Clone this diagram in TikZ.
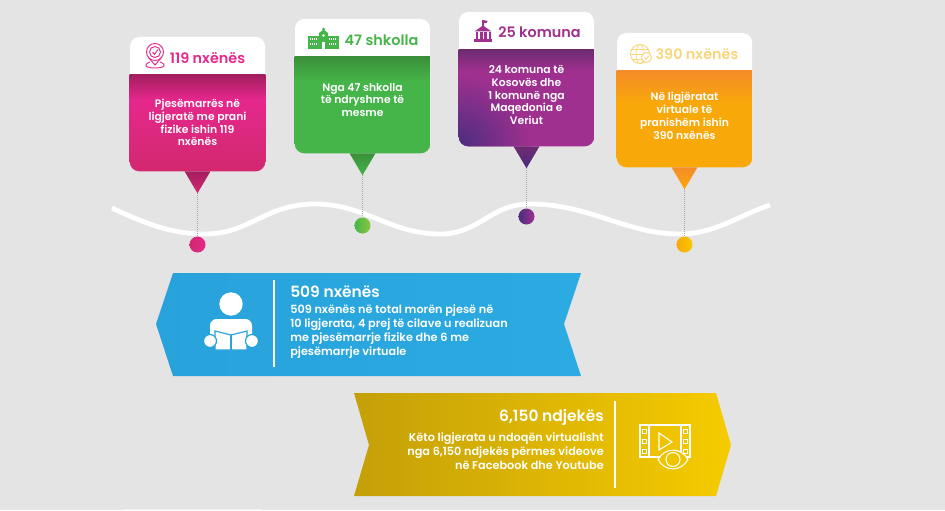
\documentclass[tikz,border=0pt]{standalone}
\usepackage{fontspec}
\setmainfont{Poppins}[BoldFont={Poppins SemiBold}]
\usetikzlibrary{positioning}
\usetikzlibrary{calc}
\definecolor{bgGray}{HTML}{E4E4E4}
\definecolor{pinkMain}{HTML}{E5288C}
\definecolor{pinkLow}{HTML}{D2286F}
\definecolor{pinkDark}{HTML}{A31E5F}
\definecolor{greenMain}{HTML}{45B549}
\definecolor{greenDark}{HTML}{3A8F3A}
\definecolor{greenLime}{HTML}{8CC63F}
\definecolor{purpleMain}{HTML}{A0308F}
\definecolor{purpleTop}{HTML}{6E2A72}
\definecolor{purpleLow}{HTML}{4A2D7F}
\definecolor{orangeMain}{HTML}{F9A80A}
\definecolor{orangeTop}{HTML}{F58C28}
\definecolor{yellowHead}{HTML}{F9D67C}
\definecolor{blueBand}{HTML}{28A2DB}
\definecolor{blueRight}{HTML}{2BABE2}
\definecolor{goldLeft}{HTML}{C4A008}
\definecolor{goldRight}{HTML}{F6CB00}
\pgfdeclareverticalshading{pinkBody}{100bp}{color(0bp)=(pinkLow);color(25bp)=(pinkLow);color(62bp)=(pinkMain);color(75bp)=(pinkDark);color(100bp)=(pinkDark)}
\pgfdeclareverticalshading{greenBody}{100bp}{color(0bp)=(greenMain);color(25bp)=(greenMain);color(62bp)=(greenMain);color(75bp)=(greenDark);color(100bp)=(greenDark)}
\pgfdeclareverticalshading{purpleBody}{100bp}{color(0bp)=(purpleMain);color(25bp)=(purpleMain);color(64bp)=(purpleMain);color(75bp)=(purpleTop);color(100bp)=(purpleTop)}
\pgfdeclareverticalshading{orangeBody}{100bp}{color(0bp)=(orangeMain);color(25bp)=(orangeMain);color(58bp)=(orangeMain);color(75bp)=(orangeTop);color(100bp)=(orangeTop)}
\tikzset{%
	% Specifications for style of nodes:
	card/.style = {rectangle, rounded corners=7pt, fill=white, minimum width=101.25pt, minimum height=100.5pt, inner sep=0pt},
	cardtext/.style = {align=center, text=white, inner sep=0pt, font=\fontsize{8.1pt}{9.6pt}\selectfont\bfseries},
	headtext/.style = {inner sep=0pt, font=\fontsize{10.8pt}{12pt}\selectfont\bfseries},
	spot/.style = {circle, minimum size=12pt, inner sep=0pt},
	stem/.style = {densely dotted, line width=.5pt, draw=black!35},
	bandtitle/.style = {inner sep=0pt, text=white, font=\fontsize{11.6pt}{13pt}\selectfont\bfseries},
	bandtext/.style = {inner sep=0pt, text=white, font=\fontsize{8.45pt}{10.5pt}\selectfont\bfseries},
	divider/.style = {draw=white, line width=1.4pt}
}
\begin{document}
\begin{tikzpicture}[x=.75pt, y=-.75pt]
		\fill[bgGray] (0,0) rectangle (945,510);
		\useasboundingbox (0,0) rectangle (945,510);
		\fill[black!6] (124,509) rectangle (262,510);
		%% Wave
		\draw[white, line width=3.6pt] (112,208) .. controls (150,226) and (175,234) .. (205,234) .. controls (250,234) and (265,204) .. (315,204) .. controls (365,204) and (390,234) .. (440,234) .. controls (480,234) and (490,204) .. (530,204) .. controls (590,204) and (625,234) .. (680,234) .. controls (715,234) and (740,215) .. (770,205);
		%% First card
		\node [card] (cardA) at (197.5,104) {};
		\coordinate [below=28.5pt of cardA.north west] (cardASplit);
		\begin{scope}
			\clip [rounded corners=7pt] (cardA.north west) rectangle (cardA.south east);
			\path [shade, shading=pinkBody] (cardASplit) rectangle (cardA.south east);
		\end{scope}
		\coordinate [below=16.5pt of cardA.south] (tipA);
		\path [shade, top color=pinkDark, bottom color=pinkLow] (cardA.south) ++(-13,0) -- ++(26,0) -- (tipA) -- cycle;
		\node [spot, left color=pinkLow, right color=pinkMain, below=48.75pt of cardA.south] (dotA) {};
		\draw [stem] (tipA) -- (dotA);
		\node [headtext, text=pinkMain] (headA) at (207.5,58) {119 nxënës};
		\node [cardtext] (textA) at (197.5,122.5) {Pjesëmarrës në\\ligjeratë me prani\\fizike ishin 119\\nxënës};
		\draw [pinkMain, line width=.7pt] (155,52) circle (8.5);
		\draw [pinkMain, line width=.7pt] (155,52) circle (5.5);
		\draw [pinkMain, line width=.7pt] (152.5,52) -- (154.5,54.5) -- (158,49.5);
		\draw [pinkMain, line width=.7pt] (150,62) .. controls (142,65) and (146,68) .. (155,68) .. controls (164,68) and (168,65) .. (160,62);
		\draw [pinkMain, line width=.7pt] (148.5,57.5) -- (155,65) -- (161.5,57.5);
		%% Second card
		\node [card] (cardB) at (362.5,86) {};
		\coordinate [below=28.5pt of cardB.north west] (cardBSplit);
		\begin{scope}
			\clip [rounded corners=7pt] (cardB.north west) rectangle (cardB.south east);
			\path [shade, shading=greenBody] (cardBSplit) rectangle (cardB.south east);
		\end{scope}
		\coordinate [below=16.5pt of cardB.south] (tipB);
		\path [shade, top color=greenDark, bottom color=greenMain] (cardB.south) ++(-13,0) -- ++(26,0) -- (tipB) -- cycle;
		\node [spot, left color=greenMain, right color=greenLime, below=48pt of cardB.south] (dotB) {};
		\draw [stem] (tipB) -- (dotB);
		\node [headtext, text=greenMain] (headB) at (381.5,40) {47 shkolla};
		\node [cardtext] (textB) at (362.5,100) {Nga 47 shkolla\\të ndryshme të\\mesme};
		\fill [greenMain] (308,36) rectangle (339,49);
		\fill [greenMain] (319,36) -- (319,33) -- (323.5,29.5) -- (328,33) -- (328,36) -- cycle;
		\fill [greenMain] (323.5,29) circle (1.5);
		\foreach \winY in {39,44} {
			\draw [white, line width=1.5pt, dash pattern=on .9pt off .6pt] (310,\winY) -- (318,\winY);
			\draw [white, line width=1.5pt, dash pattern=on .9pt off .6pt] (329,\winY) -- (337,\winY);
		}
		\fill [white] (322,42) rectangle (325,49);
		\fill [white] (323.5,35.5) circle (1.4);
		%% Third card
		\node [card] (cardC) at (526.5,79) {};
		\coordinate [below=28.5pt of cardC.north west] (cardCSplit);
		\begin{scope}
			\clip [rounded corners=7pt] (cardC.north west) rectangle (cardC.south east);
			\path [shade, shading=purpleBody] (cardCSplit) rectangle (cardC.south east);
			\shade [inner color=purpleLow, outer color=purpleMain] (cardC.south west) circle (72);
		\end{scope}
		\coordinate [below=16.5pt of cardC.south] (tipC);
		\path [shade, top color=purpleTop, bottom color=purpleLow] (cardC.south) ++(-13,0) -- ++(26,0) -- (tipC) -- cycle;
		\node [spot, left color=purpleLow, right color=purpleMain, below=46.5pt of cardC.south] (dotC) {};
		\draw [stem] (tipC) -- (dotC);
		\node [headtext, text=purpleMain] (headC) at (539.5,32) {25 komuna};
		\node [cardtext] (textC) at (526.5,95) {24 komuna të\\Kosovës dhe\\1 komunë nga\\Maqedonia e\\Veriut};
		\fill [purpleMain] (474.5,31.5) -- (483,25.5) -- (491.5,31.5) -- cycle;
		\draw [purpleMain, line width=.8pt] (483,26) -- (483,20.5);
		\fill [purpleMain] (483,20) -- (487.5,21) -- (486.5,23) -- (483,23) -- cycle;
		\foreach \colX in {477,481.3,485.6,490} {
			\fill [purpleMain] (\colX-1.2,32) rectangle (\colX+1.2,39);
		}
		\fill [purpleMain] (474,39.5) rectangle (492,42);
		%% Fourth card
		\node [card] (cardD) at (684.5,100) {};
		\coordinate [below=28.5pt of cardD.north west] (cardDSplit);
		\begin{scope}
			\clip [rounded corners=7pt] (cardD.north west) rectangle (cardD.south east);
			\path [shade, shading=orangeBody] (cardDSplit) rectangle (cardD.south east);
		\end{scope}
		\coordinate [below=16.5pt of cardD.south] (tipD);
		\path [shade, top color=orangeTop, bottom color=orangeMain] (cardD.south) ++(-13,0) -- ++(26,0) -- (tipD) -- cycle;
		\node [spot, left color=orangeMain, right color=goldRight, below=51.75pt of cardD.south] (dotD) {};
		\draw [stem] (tipD) -- (dotD);
		\node [headtext, text=yellowHead] (headD) at (697,54) {390 nxënës};
		\node [cardtext] (textD) at (684.5,116) {Në ligjëratat\\virtuale të\\pranishëm ishin\\390 nxënës};
		\draw [yellowHead, line width=.7pt] (640,54) circle (9.5);
		\draw [yellowHead, line width=.5pt] (640,54) ellipse (4 and 9.5);
		\draw [yellowHead, line width=.5pt] (630.5,54) -- (649.5,54) (632,49) -- (648,49) (632,59) -- (648,59);
		\draw [yellowHead, line width=.7pt, fill=white] (646.5,57.5) circle (5);
		\draw [yellowHead, line width=.6pt] (644.5,57.5) -- (646,59.5) -- (649,55.5);
		%% Left band
		\path [shade, left color=blueBand, right color=blueRight] (156,324) -- (173,273) -- (581,273) -- (564,324) -- (581,376) -- (173,376) -- cycle;
		\coordinate (bandAUp) at (274,280);
		\coordinate (bandADown) at (274,367);
		\draw [divider] (bandAUp) -- (bandADown);
		\node [bandtitle, anchor=west] (bandATitle) at (290,292) {509 nxënës};
		\node [bandtext, anchor=west, align=left] (bandAText) at (290,332) {509 nxënës në total morën pjesë në\\10 ligjerata, 4 prej të cilave u realizuan\\me pjesëmarrje fizike dhe 6 me\\pjesëmarrje virtuale};
		\fill [white] (231,304) circle (11.7);
		\fill [white, rounded corners=5pt] (210,345) -- (210,319) -- (252,319) -- (252,345) -- cycle;
		\fill [white, draw=blueBand, line width=.9pt] (215,331) -- (231,335) -- (247,331) -- (247,350) -- (231,350) -- (215,350) -- cycle;
		\draw [blueBand, line width=1.4pt] (231,335) -- (231,350);
		\fill [white, draw=blueBand, line width=.9pt] (210,341) circle (6.5);
		\fill [white, draw=blueBand, line width=.9pt] (252,341) circle (6.5);
		%% Right band
		\path [shade, left color=goldLeft, right color=goldRight] (354,393) -- (716,393) -- (731,445) -- (716,496) -- (354,496) -- (369,445) -- cycle;
		\coordinate (bandBUp) at (615,401);
		\coordinate (bandBDown) at (615,488);
		\draw [divider] (bandBUp) -- (bandBDown);
		\node [bandtitle, anchor=east] (bandBTitle) at (604,417) {6,150 ndjekës};
		\node [bandtext, anchor=east, align=right] (bandBText) at (604,451) {Këto ligjerata u ndoqën virtualisht\\nga 6,150 ndjekës përmes videove\\në Facebook dhe Youtube};
		\draw [white, line width=.8pt] (640,425) rectangle (690,457);
		\draw [white, line width=.8pt] (649,425) -- (649,457) (681,425) -- (681,457);
		\foreach \holeY in {431,441,451} {
			\draw [white, line width=.6pt] (642.5,\holeY-2) rectangle (646.5,\holeY+2);
			\draw [white, line width=.6pt] (683.5,\holeY-2) rectangle (687.5,\holeY+2);
		}
		\draw [white, line width=.8pt] (659,433) -- (659,450) -- (672,442) -- cycle;
		\fill [goldRight!85!goldLeft, draw=white, line width=.8pt] (658,459.5) .. controls (665,447) and (681,447) .. (688,459.5) .. controls (681,472) and (665,472) .. (658,459.5) -- cycle;
		\draw [white, line width=.8pt] (673,459.5) circle (7);
\end{tikzpicture}
\end{document}
